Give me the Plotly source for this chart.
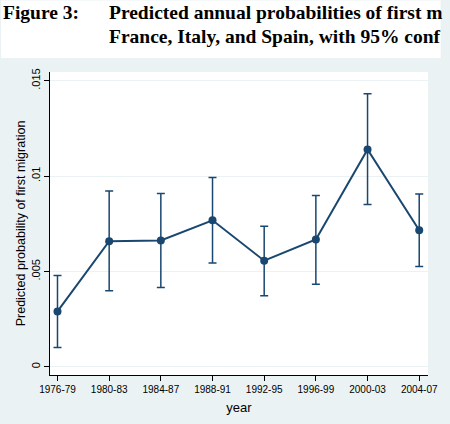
import plotly.graph_objects as go

# ---- data ----
periods = ["1976-79", "1980-83", "1984-87", "1988-91", "1992-95", "1996-99", "2000-03", "2004-07"]
prob = [0.00290, 0.00658, 0.00662, 0.00768, 0.00556, 0.00667, 0.01139, 0.00716]
ci_upper = [0.00479, 0.00922, 0.00908, 0.00992, 0.00736, 0.00898, 0.01431, 0.00906]
ci_lower = [0.00101, 0.00398, 0.00415, 0.00544, 0.00372, 0.00432, 0.00851, 0.00526]
y_tickvals = [0, 0.005, 0.01, 0.015]
y_ticktext = ["0", ".005", ".01", ".015"]

W, H = 450, 424
ML, MR, MT, MB = 50, 13, 72, 47
PW, PH = W - ML - MR, H - MT - MB

def px_x(px):
    return (px - ML) / PW

def px_y(py):
    return 1 - (py - MT) / PH

navy = "#1A476F"
bg = "#EAF2F3"

err_plus = [u - p for u, p in zip(ci_upper, prob)]
err_minus = [p - l for p, l in zip(prob, ci_lower)]

fig = go.Figure()
fig.add_trace(go.Scatter(
    x=periods, y=prob, mode="lines+markers",
    line=dict(color=navy, width=2),
    marker=dict(color=navy, size=8),
    error_y=dict(type="data", symmetric=False, array=err_plus, arrayminus=err_minus,
                 color=navy, thickness=1.5, width=4),
    showlegend=False,
))

fig.update_layout(
    width=W, height=H,
    margin=dict(l=ML, r=MR, t=MT, b=MB, pad=0),
    paper_bgcolor=bg, plot_bgcolor="white",
    font=dict(family="Liberation Sans, Arial", color="black"),
    xaxis=dict(
        type="category", range=[-0.145, 7.17],
        showgrid=False, zeroline=False,
        showline=True, linecolor="black", linewidth=1,
        ticks="outside", ticklen=5, tickcolor="black",
        tickfont=dict(size=10),
        title=dict(text="year", font=dict(size=13), standoff=8),
    ),
    yaxis=dict(
        range=[-0.000432, 0.015453],
        tickvals=y_tickvals, ticktext=y_ticktext, tickangle=-90,
        showgrid=True, gridcolor=bg, gridwidth=1, zeroline=False,
        showline=True, linecolor="black", linewidth=1,
        ticks="outside", ticklen=5, tickcolor="black",
        tickfont=dict(size=11),
        title=dict(text="Predicted probability of first migration", font=dict(size=12.5), standoff=1),
    ),
    shapes=[dict(type="rect", xref="paper", yref="paper",
                 x0=px_x(0), x1=px_x(W), y0=px_y(58), y1=px_y(0),
                 fillcolor="white", line=dict(width=0), layer="below")],
)

tfont = dict(family="Liberation Serif, Times New Roman", size=19.5, color="black")
fig.add_annotation(text="<b>Figure 3:</b>", xref="paper", yref="paper",
                   x=px_x(0), y=px_y(0), xanchor="left", yanchor="top",
                   showarrow=False, font=tfont)
fig.add_annotation(text="<b>Predicted annual probabilities of first m</b>", xref="paper", yref="paper",
                   x=px_x(108), y=px_y(0), xanchor="left", yanchor="top",
                   showarrow=False, font=tfont)
fig.add_annotation(text="<b>France, Italy, and Spain, with 95% conf</b>", xref="paper", yref="paper",
                   x=px_x(108), y=px_y(24), xanchor="left", yanchor="top",
                   showarrow=False, font=tfont)

fig.write_html("out.html")
